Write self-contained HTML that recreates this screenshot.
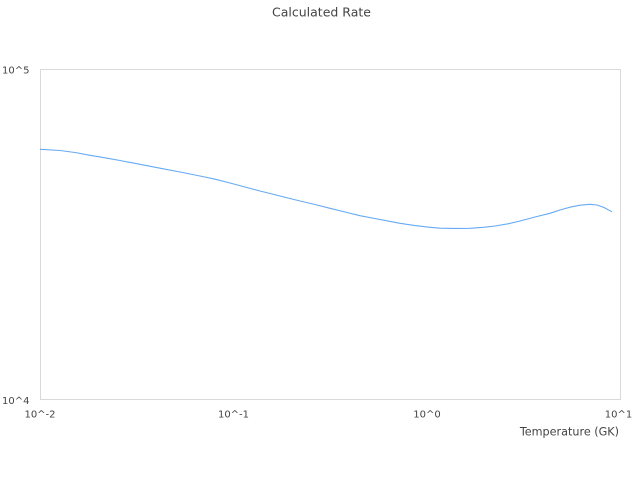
<!DOCTYPE html>
<html>
<head>
<meta charset="utf-8">
<style>
  html, body { margin: 0; padding: 0; background: #ffffff; }
  body { width: 640px; height: 480px; overflow: hidden; }
  svg { display: block; }
  text { font-family: "DejaVu Sans", "Liberation Sans", sans-serif; fill: #444; }
</style>
</head>
<body>
<svg width="640" height="480" viewBox="0 0 640 480" xmlns="http://www.w3.org/2000/svg">
  <rect x="0" y="0" width="640" height="480" fill="#ffffff"/>
  <text x="321.5" y="16.5" font-size="12.5" text-anchor="middle" fill="#333">Calculated Rate</text>
  <rect x="40.5" y="69.5" width="580" height="330" fill="none" stroke="#d9d9d9" stroke-width="1"/>
  <text x="2" y="73.5" font-size="10">10^5</text>
  <text x="2" y="404" font-size="10">10^4</text>
  <text x="40" y="417.5" font-size="10" text-anchor="middle">10^-2</text>
  <text x="233.5" y="417.5" font-size="10" text-anchor="middle">10^-1</text>
  <text x="427" y="417.5" font-size="10" text-anchor="middle">10^0</text>
  <text x="618.5" y="417.5" font-size="10" text-anchor="middle">10^1</text>
  <text x="619" y="435.3" font-size="11.2" text-anchor="end">Temperature (GK)</text>
  <polyline fill="none" stroke="#66aaf5" stroke-width="1.1" stroke-linejoin="round"
    points="40,149.3 60,150.5 75,152.5 90,155.3 105,157.8 120,160.5 140,164.3 160,168.2 180,172 200,176 215,179.2 230,183 245,187 260,191 280,196 300,201 315,204.5 330,208.3 345,212 360,215.7 380,219.5 400,223.3 415,225.6 430,227.3 440,228.2 455,228.4 470,228.3 485,227.2 495,226 508,223.8 520,221 535,217 550,213.3 560,210 570,207.2 580,205.2 590,204.3 597,205 604,207.5 612,211.8"/>
</svg>
</body>
</html>
